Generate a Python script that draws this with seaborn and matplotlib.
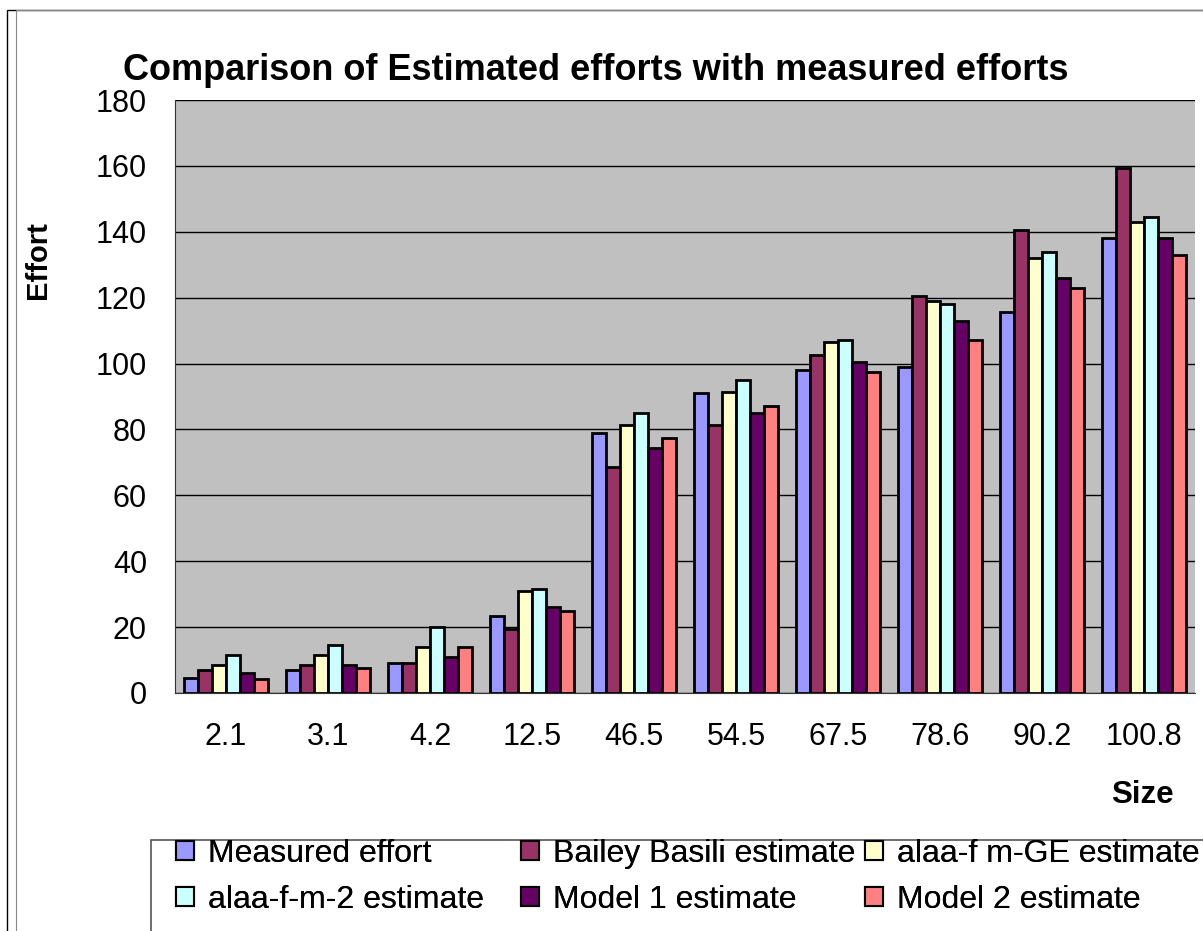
import matplotlib
matplotlib.use("Agg")
import matplotlib.pyplot as plt
from matplotlib.patches import Rectangle, Patch
import seaborn as sns
import pandas as pd

sizes = ["2.1", "3.1", "4.2", "12.5", "46.5", "54.5", "67.5", "78.6", "90.2", "100.8"]
series_names = ["Measured effort", "Bailey Basili estimate", "alaa-f m-GE estimate",
                "alaa-f-m-2 estimate", "Model 1 estimate", "Model 2 estimate"]
measured = [4.7, 7, 9, 23.5, 79, 91, 98, 99, 115.5, 138]
bailey = [7, 8.5, 9, 19.5, 68.5, 81.5, 102.5, 120.5, 140.5, 159.5]
alaa_ge = [8.5, 11.5, 14, 31, 81.5, 91.5, 106.5, 119, 132, 143]
alaa_2 = [11.5, 14.5, 20, 31.5, 85, 95, 107, 118, 134, 144.5]
model1 = [6, 8.5, 11, 26, 74.5, 85, 100.5, 113, 126, 138]
model2 = [4.3, 7.7, 14, 25, 77.5, 87, 97.5, 107, 123, 133]
colors = ["#9999FF", "#993366", "#FFFFCC", "#CCFFFF", "#660066", "#FF8080"]

all_values = [measured, bailey, alaa_ge, alaa_2, model1, model2]
rows = []
for name, vals in zip(series_names, all_values):
    for s, v in zip(sizes, vals):
        rows.append({"Size": s, "Effort": v, "Series": name})
df = pd.DataFrame(rows)

sns.set_style("white")
plt.rcParams["font.family"] = ["Liberation Sans", "DejaVu Sans"]
plt.rcParams["text.color"] = "black"
plt.rcParams["axes.labelcolor"] = "black"
plt.rcParams["xtick.color"] = "black"
plt.rcParams["ytick.color"] = "black"

W, H = 1203, 931
fig = plt.figure(figsize=(W / 100, H / 100), dpi=100)
ax = fig.add_axes([175 / W, 1 - 693 / H, 1020 / W, 593 / H])

sns.barplot(data=df, x="Size", y="Effort", hue="Series", order=sizes,
            hue_order=series_names, palette=colors, width=0.83,
            edgecolor="black", linewidth=2.0, saturation=1, ax=ax, legend=False)

ax.set_facecolor("#C0C0C0")
ax.set_ylim(0, 180)
ax.set_xlim(-0.5, len(sizes) - 0.5)
ax.set_yticks(range(0, 181, 20))
ax.yaxis.grid(True, color="black", linewidth=1.0)
ax.set_axisbelow(True)
for side in ["top", "right"]:
    ax.spines[side].set_visible(False)
ax.spines["left"].set_color("#333333")
ax.spines["bottom"].set_color("#333333")

# ticks sit between the categories
ax.set_xticks([i - 0.5 for i in range(len(sizes) + 1)], minor=False)
ax.set_xticklabels([])
ax.set_xticks(range(len(sizes)), minor=True)
ax.set_xticklabels(sizes, minor=True, fontsize=22)
ax.tick_params(axis="x", which="minor", length=0, pad=21)
ax.tick_params(axis="x", which="major", length=7.2, width=1, color="#333333", direction="out")
ax.tick_params(axis="y", labelsize=22, length=7.2, width=1, color="#333333",
               direction="out", pad=13)
ax.set_xlabel("")
ax.set_ylabel("")

fig.text(596 / W, 1 - 71 / H, "Comparison of Estimated efforts with measured efforts",
         ha="center", va="center", fontsize=26, fontweight="bold")
fig.text(38 / W, 1 - 260 / H, "Effort", rotation=90, ha="center", va="center",
         fontsize=21, fontweight="bold")
fig.text(1142 / W, 1 - 795 / H, "Size", ha="center", va="center",
         fontsize=22.5, fontweight="bold")

# legend box
fig.patches.append(Rectangle((151 / W, -0.01), 1.0, (H - 840) / H + 0.01,
                             transform=fig.transFigure, facecolor="white",
                             edgecolor="#555555", linewidth=1.2))
handles = [Patch(facecolor=c, edgecolor="black", linewidth=1.5) for c in colors]
col_x = [176, 521, 865]
for col in range(3):
    idx = [col, col + 3]
    leg = fig.legend([handles[i] for i in idx], [series_names[i] for i in idx],
                     loc="upper left", bbox_to_anchor=(col_x[col] / W, 1 - 839 / H),
                     ncol=1, frameon=False, fontsize=23, handlelength=0.55,
                     handleheight=0.55, handletextpad=0.45, labelspacing=0.5,
                     borderaxespad=0, borderpad=0)
    fig.add_artist(leg)

# outer frame
fig.patches.append(Rectangle((7 / W, -0.01), 1.0, 1 - 10 / H + 0.01,
                             transform=fig.transFigure, fill=False,
                             edgecolor="black", linewidth=1.0))
fig.patches.append(Rectangle((16 / W, -0.01), 1.0, 1 - 10 / H + 0.01,
                             transform=fig.transFigure, fill=False,
                             edgecolor="#888888", linewidth=0.8))

fig.savefig("out.png", dpi=100)
